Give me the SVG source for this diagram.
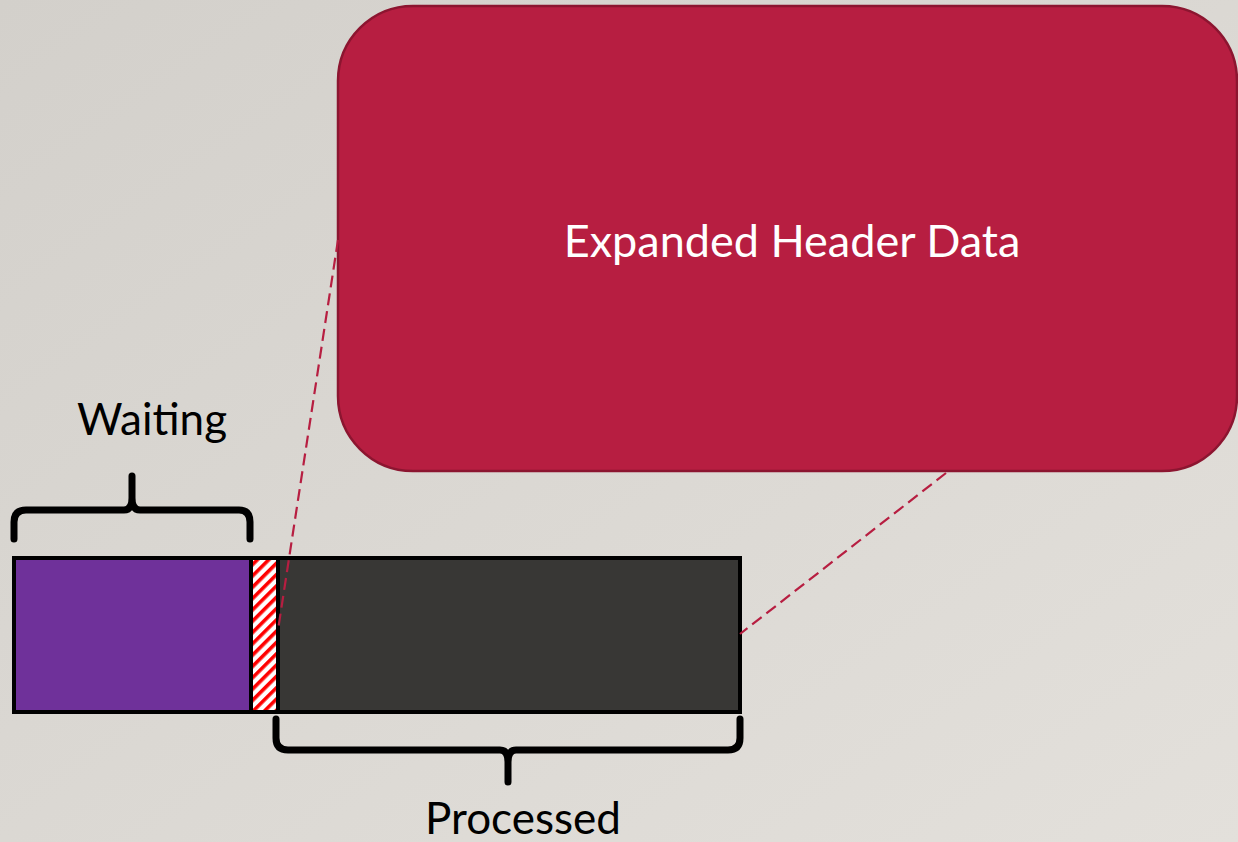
<svg xmlns="http://www.w3.org/2000/svg" width="1238" height="842" viewBox="0 0 1238 842">
  <defs>
    <linearGradient id="bg" x1="0" y1="0" x2="1" y2="1">
      <stop offset="0" stop-color="#d3d0cb"/>
      <stop offset="1" stop-color="#e3e0db"/>
    </linearGradient>
    <pattern id="hatch" patternUnits="userSpaceOnUse" width="8" height="8" patternTransform="rotate(-45)">
      <rect width="8" height="8" fill="#ffffff"/>
      <rect width="8" height="3.6" fill="#ff0000"/>
    </pattern>
    <style>
      .label { font-family: "Lato", "Liberation Sans", sans-serif; font-size: 44px; fill: #000000; text-anchor: middle; }
      .title { font-family: "Lato", "Liberation Sans", sans-serif; font-size: 45px; fill: #ffffff; text-anchor: middle; }
      .brace { fill: none; stroke: #000000; stroke-width: 7; stroke-linecap: round; stroke-linejoin: round; }
      .seg { stroke: #000000; stroke-width: 4; }
      .zoom { fill: none; stroke: #b71e41; stroke-width: 2.2; stroke-dasharray: 12 6; }
    </style>
  </defs>

  <rect width="1238" height="842" fill="url(#bg)"/>

  <!-- expanded header callout -->
  <g id="header-box">
    <rect x="338" y="6" width="899" height="465" rx="75" ry="75" fill="#b71e41" stroke="#8c1530" stroke-width="2.5"/>
    <text class="title" x="792" y="257">Expanded Header Data</text>
  </g>

  <!-- buffer bar -->
  <g id="buffer">
    <rect class="seg" x="14" y="558" width="237" height="154" fill="#6f319a"/>
    <rect class="seg" x="251" y="558" width="27" height="154" fill="url(#hatch)"/>
    <rect class="seg" x="278" y="558" width="462" height="154" fill="#383735"/>
  </g>

  <!-- zoom guide lines -->
  <g id="connectors">
    <line class="zoom" x1="338" y1="240" x2="278" y2="630"/>
    <line class="zoom" x1="946" y1="473" x2="740" y2="634"/>
  </g>

  <g id="waiting">
    <path class="brace" d="M14,539 L14,522 Q14,510 26,510 L124,510 Q132,510 132,498 L132,476 M132,498 Q132,510 140,510 L239,510 Q250,510 250,522 L250,539"/>
    <text class="label" x="152" y="435">Waiting</text>
  </g>

  <g id="processed">
    <path class="brace" d="M276,719 L276,738 Q276,750 288,750 L500,750 Q508,750 508,762 L508,782 M508,762 Q508,750 516,750 L728,750 Q740,750 740,738 L740,719"/>
    <text class="label" x="523" y="834">Processed</text>
  </g>
</svg>
